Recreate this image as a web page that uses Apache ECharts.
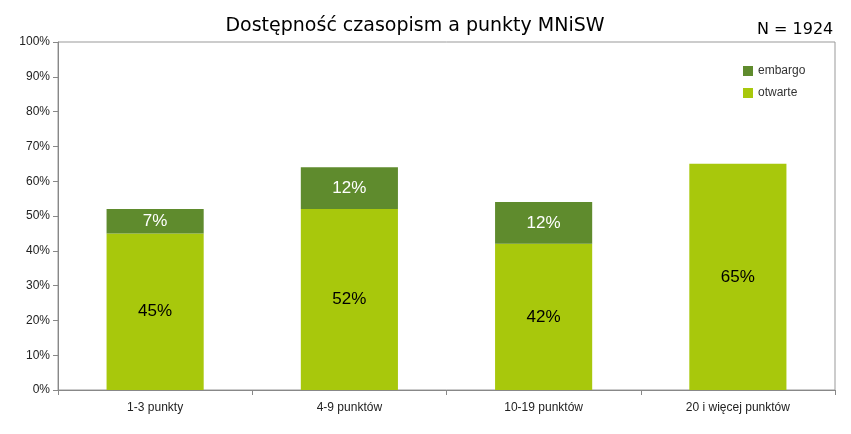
<!DOCTYPE html>
<html><head><meta charset="utf-8">
<script src="https://cdn.jsdelivr.net/npm/echarts@6/dist/echarts.min.js"></script>
<style>html,body{margin:0;padding:0;background:#fff}#c{width:851px;height:434px}</style>
</head><body><div id="c"></div>
<script>
var categories = ['1-3 punkty','4-9 punktów','10-19 punktów','20 i więcej punktów'];
var otwarte = [45, 52, 42, 65];
var embargo = [7, 12, 12, 0];
var yTicks = [0,10,20,30,40,50,60,70,80,90,100];
var chart = echarts.init(document.getElementById('c'));
chart.setOption({
  animation:false,
  title:[{text:'Dostępność czasopism a punkty MNiSW',left:410,top:12,textAlign:'center',textStyle:{fontFamily:'DejaVu Sans',fontSize:19,fontWeight:'normal',color:'#000'}},
         {text:'N = 1924',left:752,top:17,textStyle:{fontFamily:'DejaVu Sans',fontSize:16,fontWeight:'normal',color:'#000'}}],
  legend:{orient:'vertical',left:738,top:60,itemWidth:10,itemHeight:10,itemGap:10,
    data:['embargo','otwarte'],textStyle:{fontFamily:'Liberation Sans',fontSize:12,color:'#333'},icon:'rect'},
  grid:{left:58,right:16,top:42,bottom:44,show:true,borderColor:'#999',borderWidth:1},
  xAxis:{type:'category',data:categories,axisTick:{show:true,alignWithLabel:false,lineStyle:{color:'#888'}},
    axisLine:{lineStyle:{color:'#888'}},axisLabel:{fontFamily:'Liberation Sans',fontSize:12,color:'#222',margin:12}},
  yAxis:{type:'value',min:0,max:100,interval:10,axisLine:{show:true,lineStyle:{color:'#888'}},axisTick:{show:true,lineStyle:{color:'#888'}},
    splitLine:{show:false},axisLabel:{fontFamily:'Liberation Sans',fontSize:12,color:'#222',formatter:function(v){return yTicks.indexOf(v)>=0?v+'%':'';}}},
  series:[
    {name:'otwarte',type:'bar',stack:'a',data:otwarte,barWidth:'50%',itemStyle:{color:'#a8c80c'},
     label:{show:true,position:'inside',formatter:'{c}%',fontFamily:'Liberation Sans',fontSize:17,color:'#000'}},
    {name:'embargo',type:'bar',stack:'a',data:embargo,barWidth:'50%',itemStyle:{color:'#5f8b2d'},
     label:{show:true,position:'inside',formatter:function(p){return p.value?p.value+'%':'';},fontFamily:'Liberation Sans',fontSize:17,color:'#fff'}}
  ]
});
</script></body></html>
